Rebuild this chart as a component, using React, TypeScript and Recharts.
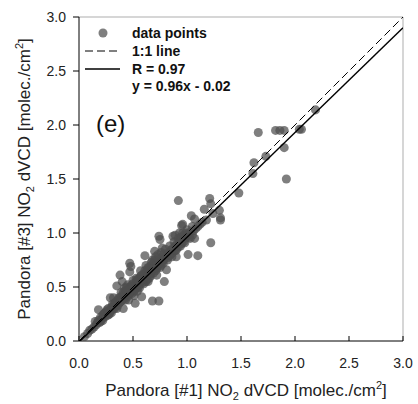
import { ScatterChart, Scatter, XAxis, YAxis, ZAxis, ReferenceLine } from 'recharts';

// Pandora [#1] vs Pandora [#3] NO2 dVCD
const pandora1 = [
  0.05, 0.08, 0.10, 0.12, 0.14, 0.15, 0.16, 0.17, 0.18, 0.18, 0.19, 0.20, 0.21, 0.22, 0.22, 0.23,
  0.24, 0.25, 0.25, 0.26, 0.27, 0.27, 0.28, 0.29, 0.29, 0.30, 0.30, 0.31, 0.32, 0.32, 0.33, 0.33,
  0.34, 0.35, 0.35, 0.36, 0.36, 0.37, 0.38, 0.38, 0.38, 0.39, 0.40, 0.40, 0.40, 0.41, 0.41, 0.42,
  0.42, 0.43, 0.43, 0.44, 0.44, 0.45, 0.45, 0.46, 0.46, 0.47, 0.47, 0.47, 0.48, 0.48, 0.48, 0.49,
  0.49, 0.50, 0.50, 0.51, 0.51, 0.52, 0.52, 0.53, 0.53, 0.54, 0.54, 0.55, 0.55, 0.56, 0.56, 0.57,
  0.57, 0.58, 0.58, 0.59, 0.59, 0.60, 0.60, 0.61, 0.61, 0.62, 0.62, 0.63, 0.63, 0.64, 0.64, 0.65,
  0.65, 0.66, 0.66, 0.67, 0.67, 0.68, 0.68, 0.69, 0.69, 0.70, 0.70, 0.71, 0.71, 0.72, 0.72, 0.73,
  0.73, 0.74, 0.74, 0.74, 0.75, 0.75, 0.76, 0.76, 0.77, 0.78, 0.78, 0.79, 0.79, 0.80, 0.81, 0.81,
  0.82, 0.83, 0.84, 0.85, 0.86, 0.87, 0.88, 0.89, 0.89, 0.90, 0.90, 0.91, 0.92, 0.92, 0.93, 0.94,
  0.95, 0.95, 0.96, 0.96, 0.97, 0.98, 0.99, 1.00, 1.01, 1.01, 1.02, 1.03, 1.04, 1.05, 1.06, 1.07,
  1.07, 1.08, 1.10, 1.10, 1.12, 1.14, 1.16, 1.18, 1.21, 1.22, 1.22, 1.24, 1.30, 1.31, 1.31, 1.48,
  1.61, 1.62, 1.66, 1.73, 1.82, 1.86, 1.90, 1.90, 1.92, 2.04, 2.06, 2.19,
  0.20, 0.23, 0.26, 0.28, 0.31, 0.34, 0.35, 0.37, 0.39, 0.41, 0.43, 0.44, 0.46, 0.47, 0.49, 0.50,
  0.52, 0.53, 0.55, 0.56, 0.58, 0.60, 0.61, 0.63, 0.64, 0.66, 0.67, 0.69, 0.70, 0.72, 0.73, 0.75,
  0.76, 0.78, 0.80, 0.82, 0.84, 0.86, 0.88, 0.90, 0.92, 0.94, 0.96, 0.98, 1.00, 1.03, 1.05, 0.87,
  0.93, 0.97, 0.62, 0.57, 0.45, 0.42, 0.51, 0.65, 0.54, 0.68, 0.71, 0.77,
];
const pandora3 = [
  0.04, 0.07, 0.10, 0.11, 0.13, 0.18, 0.15, 0.17, 0.19, 0.29, 0.17, 0.22, 0.20, 0.24, 0.19, 0.22,
  0.26, 0.23, 0.27, 0.25, 0.30, 0.24, 0.28, 0.40, 0.27, 0.31, 0.26, 0.29, 0.40, 0.33, 0.30, 0.35,
  0.32, 0.51, 0.36, 0.33, 0.38, 0.35, 0.61, 0.40, 0.36, 0.45, 0.55, 0.38, 0.42, 0.30, 0.40, 0.44,
  0.39, 0.47, 0.41, 0.43, 0.50, 0.45, 0.41, 0.38, 0.48, 0.64, 0.72, 0.44, 0.69, 0.46, 0.50, 0.52,
  0.47, 0.48, 0.53, 0.46, 0.50, 0.35, 0.52, 0.49, 0.55, 0.53, 0.57, 0.50, 0.54, 0.58, 0.52, 0.55,
  0.60, 0.41, 0.56, 0.58, 0.54, 0.62, 0.57, 0.79, 0.59, 0.55, 0.63, 0.60, 0.66, 0.55, 0.62, 0.64,
  0.68, 0.60, 0.65, 0.70, 0.63, 0.37, 0.66, 0.68, 0.72, 0.83, 0.67, 0.70, 0.65, 0.61, 0.73, 0.69,
  0.76, 0.97, 0.37, 0.71, 0.94, 0.74, 0.70, 0.77, 0.73, 0.75, 0.80, 0.55, 0.76, 0.78, 0.66, 0.80,
  0.77, 0.82, 0.79, 0.84, 0.81, 0.86, 0.83, 0.98, 0.88, 0.78, 0.85, 0.90, 1.30, 0.87, 0.92, 0.96,
  1.07, 0.90, 1.08, 0.94, 0.98, 0.95, 1.00, 0.97, 0.80, 0.99, 0.96, 1.01, 1.16, 0.98, 1.02, 1.13,
  0.95, 1.04, 0.79, 1.06, 1.08, 1.10, 1.22, 1.12, 1.32, 1.27, 0.91, 1.18, 1.21, 1.14, 1.12, 1.37,
  1.55, 1.65, 1.93, 1.71, 1.95, 1.95, 1.95, 1.79, 1.50, 1.96, 1.96, 2.14,
  0.18, 0.25, 0.29, 0.25, 0.34, 0.36, 0.30, 0.40, 0.37, 0.45, 0.38, 0.47, 0.43, 0.50, 0.44, 0.56,
  0.48, 0.58, 0.57, 0.49, 0.61, 0.53, 0.65, 0.57, 0.68, 0.62, 0.73, 0.63, 0.75, 0.67, 0.80, 0.68,
  0.82, 0.72, 0.85, 0.75, 0.88, 0.78, 0.92, 0.84, 0.95, 0.88, 1.00, 0.91, 1.03, 0.95, 1.06, 0.97,
  1.00, 0.92, 0.70, 0.65, 0.52, 0.49, 0.42, 0.58, 0.46, 0.75, 0.78, 0.86,
];

const axisTicks = [0, 0.5, 1.0, 1.5, 2.0, 2.5, 3.0];
const oneToOneX = [0, 3];
const oneToOneY = [0, 3];
const fitX = [0.01, 3];
const fitY = [0, 2.9];

const points = pandora1.map((x, i) => ({ x, y: pandora3[i] }));
const oneToOne = oneToOneX.map((x, i) => ({ x, y: oneToOneY[i] }));
const fitLine = fitX.map((x, i) => ({ x, y: fitY[i] }));

const FONT = 'Arial, "Liberation Sans", sans-serif';

const XTick = (props: any) => {
  const { x, y, payload } = props;
  return (
    <g>
      <line x1={x} x2={x} y1={y - 16} y2={y - 21} stroke="#000" />
      <text x={x} y={y + 11} textAnchor="middle" fontSize={14} fontFamily={FONT} fill="#222">
        {payload.value.toFixed(1)}
      </text>
    </g>
  );
};

const XLabel = () => (
  <text x={246} y={396} textAnchor="middle" fontSize={17} fontFamily={FONT} fill="#222">
    Pandora [#1] NO<tspan dy={4} fontSize={11}>2</tspan>
    <tspan dy={-4}> dVCD [molec./cm</tspan>
    <tspan dy={-7} fontSize={11}>2</tspan>
    <tspan dy={7}>]</tspan>
  </text>
);

const YLabel = () => (
  <text
    x={0}
    y={0}
    transform="translate(30,179) rotate(-90)"
    textAnchor="middle"
    fontSize={17}
    fontFamily={FONT}
    fill="#222"
  >
    Pandora [#3] NO<tspan dy={4} fontSize={11}>2</tspan>
    <tspan dy={-4}> dVCD [molec./cm</tspan>
    <tspan dy={-7} fontSize={11}>2</tspan>
    <tspan dy={7}>]</tspan>
  </text>
);

export default function App() {
  return (
    <div style={{ position: 'absolute', left: 0, top: 0, width: 418, height: 404, background: '#fff' }}>
      <ScatterChart width={418} height={404} margin={{ top: 17, right: 15, bottom: 0, left: 0 }}>
        <XAxis
          type="number"
          dataKey="x"
          domain={[0, 3]}
          ticks={axisTicks}
          allowDataOverflow
          height={63}
          tickSize={0}
          tickMargin={16}
          stroke="#000"
          tick={<XTick />}
          label={{ content: () => <XLabel /> }}
        />
        <YAxis
          type="number"
          dataKey="y"
          domain={[0, 3]}
          ticks={axisTicks}
          allowDataOverflow
          width={79}
          tickSize={6}
          tickMargin={7}
          stroke="#000"
          tick={{ fontSize: 14, fontFamily: FONT, fill: '#222' }}
          tickFormatter={(v: number) => v.toFixed(1)}
          label={{ content: () => <YLabel /> }}
        />
        <ZAxis range={[64, 64]} />
        <ReferenceLine y={3} stroke="#c8c8c8" strokeWidth={1.5} />
        <ReferenceLine x={3} stroke="#c8c8c8" strokeWidth={1.5} />
        <Scatter data={points} fill="#4d4d4d" fillOpacity={0.72} isAnimationActive={false} />
        <Scatter
          data={oneToOne}
          line={{ stroke: '#000', strokeWidth: 1, strokeDasharray: '8 4' }}
          shape={() => null}
          isAnimationActive={false}
        />
        <Scatter
          data={fitLine}
          line={{ stroke: '#000', strokeWidth: 1.4 }}
          shape={() => null}
          isAnimationActive={false}
        />
      </ScatterChart>
      <svg width={418} height={140} style={{ position: 'absolute', left: 0, top: 0, pointerEvents: 'none' }}>
        <g fontFamily={FONT} fontSize={14} fontWeight="bold" fill="#111">
          <circle cx={103} cy={33} r={4.5} fill="#4d4d4d" fillOpacity={0.72} />
          <text x={132} y={38}>data points</text>
          <line x1={85} x2={120} y1={51} y2={51} stroke="#000" strokeDasharray="8 4" />
          <text x={132} y={56}>1:1 line</text>
          <line x1={85} x2={120} y1={69} y2={69} stroke="#000" strokeWidth={1.4} />
          <text x={132} y={74}>R = 0.97</text>
          <text x={132} y={91}>y = 0.96x - 0.02</text>
        </g>
        <text x={96} y={132} fontFamily={FONT} fontSize={24} fill="#111">(e)</text>
      </svg>
    </div>
  );
}
